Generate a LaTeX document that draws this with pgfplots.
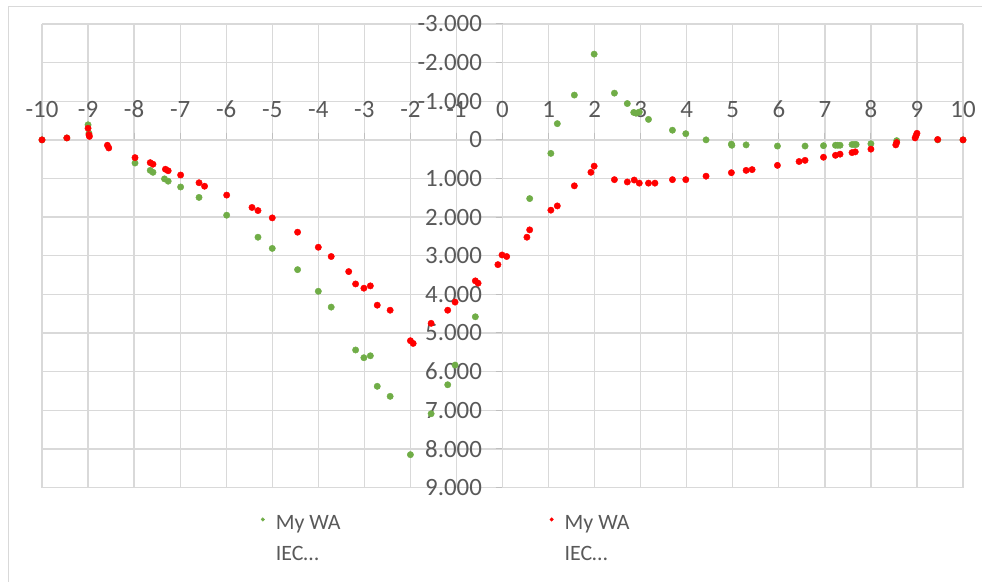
\documentclass[border=0pt]{standalone}
\usepackage{pgfplots}
\pgfplotsset{compat=1.18}
\usepackage{fontspec}
\setmainfont{Carlito}
\definecolor{txt}{HTML}{595959}
\definecolor{gridc}{HTML}{D9D9D9}
\definecolor{axc}{HTML}{BFBFBF}
\definecolor{wagreen}{HTML}{70AD47}
\definecolor{wared}{HTML}{FF0000}
\begin{document}
\begin{tikzpicture}[x=1bp,y=1bp]
\path[use as bounding box] (0,0) rectangle (982,582);
\draw[gridc, line width=1bp] (8,0) -- (8,575) -- (982,575);
\begin{axis}[
 at={(42bp,94.5bp)}, anchor=south west,
 scale only axis, width=921bp, height=463.5bp,
 xmin=-10, xmax=10, ymin=-3, ymax=9, y dir=reverse,
 axis lines=middle, axis line style={axc, line width=1.2bp, -},
 xtick={-10,-9,-8,-7,-6,-5,-4,-3,-2,-1,1,2,3,4,5,6,7,8,9,10},
 ytick={-3,-2,-1,1,2,3,4,5,6,7,8,9},
 xticklabels={-10,-9,-8,-7,-6,-5,-4,-3,-2,-1,1,2,3,4,5,6,7,8,9,10},
 yticklabels={-3.000,-2.000,-1.000,1.000,2.000,3.000,4.000,5.000,6.000,7.000,8.000,9.000},
 extra x ticks={0}, extra x tick labels={0},
 extra y ticks={0}, extra y tick labels={0},
 extra tick style={grid=major},
 grid=major, major grid style={gridc, line width=1.3bp},
 tick style={axc, line width=1bp}, major tick length=7bp, tick align=outside,
 ticklabel style={font=\fontsize{25}{30}\selectfont, text=txt},
 xticklabel style={anchor=south, yshift=26bp},
 yticklabel style={xshift=-10bp},
 clip=false,
 legend columns=2,
 legend cell align=left,
 legend image code/.code={\path[draw=none,fill=none] (0bp,0bp) -- (15bp,0bp); \fill (4bp,0bp) circle (1.8bp);},
 legend style={at={(0.232,-0.035)}, anchor=north west, draw=none, fill=none,
   font=\fontsize{22}{31}\selectfont, text=txt,
   /tikz/every even column/.append style={column sep=205bp}},
]
\addplot[only marks, mark=*, mark size=3.2bp, color=wagreen, mark options={draw=wagreen, fill=wagreen}] coordinates {
(-10,0) (-9.46,-0.05) (9.45,0) (10,0)
(-9.0,-0.39) (-8.98,-0.17) (-7.98,0.60) (-7.65,0.79) (-7.59,0.84) (-7.34,1.01) (-7.26,1.07)
(-6.99,1.22) (-6.59,1.49) (-5.99,1.95) (-5.31,2.52) (-5.0,2.81) (-4.45,3.36) (-4.0,3.92)
(-3.72,4.33) (-3.19,5.44) (-3.01,5.64) (-2.87,5.59) (-2.72,6.38) (-2.44,6.64) (-2.0,8.15)
(-1.55,7.09) (-1.19,6.34) (-1.03,5.83) (-0.59,4.58) (0.59,1.52) (1.05,0.35) (1.19,-0.42)
(1.56,-1.16) (1.99,-2.22) (2.43,-1.21) (2.71,-0.94) (2.85,-0.71) (2.90,-0.69) (2.97,-0.72)
(3.17,-0.53) (3.69,-0.25) (3.98,-0.16) (4.42,0.0) (4.97,0.11) (4.98,0.14) (5.29,0.13)
(5.97,0.16) (6.57,0.16) (6.97,0.15) (7.23,0.14) (7.28,0.14) (7.33,0.14) (7.59,0.12)
(7.64,0.12) (7.68,0.12) (8.0,0.10) (8.56,0.02)
};
\addlegendentry{\begin{tabular}[t]{@{}l@{}}My WA\\IEC…\end{tabular}}
\addplot[only marks, mark=*, mark size=3.2bp, color=wared, mark options={draw=wared, fill=wared}] coordinates {
(-10,0) (-9.46,-0.05) (-9.0,-0.30) (-8.98,-0.13) (-8.97,-0.09) (-8.58,0.14) (-8.55,0.21)
(-7.98,0.46) (-7.65,0.59) (-7.59,0.63) (-7.32,0.76) (-7.26,0.80) (-6.99,0.91) (-6.59,1.11)
(-6.47,1.20) (-5.99,1.43) (-5.44,1.75) (-5.31,1.83) (-5.0,2.02) (-4.45,2.39) (-4.0,2.78)
(-3.72,3.02) (-3.34,3.41) (-3.19,3.73) (-3.01,3.84) (-2.87,3.78) (-2.72,4.28) (-2.44,4.41)
(-2.0,5.20) (-1.94,5.27) (-1.55,4.75) (-1.19,4.41) (-1.03,4.20) (-0.59,3.65) (-0.53,3.71)
(-0.10,3.23) (-0.01,2.98) (0.09,3.02) (0.53,2.52) (0.59,2.33) (1.05,1.82) (1.19,1.71)
(1.56,1.19) (1.92,0.84) (1.99,0.68) (2.43,1.03) (2.71,1.09) (2.86,1.04) (2.97,1.12)
(3.17,1.12) (3.31,1.12) (3.69,1.03) (3.98,1.03) (4.42,0.94) (4.97,0.85) (5.29,0.79)
(5.42,0.77) (5.97,0.66) (6.44,0.56) (6.57,0.53) (6.97,0.45) (7.23,0.40) (7.33,0.37)
(7.59,0.33) (7.66,0.31) (8.0,0.24) (8.54,0.13) (8.56,0.07) (8.96,-0.05) (8.98,-0.11)
(9.0,-0.17) (9.45,-0.01) (10,0)
};
\addlegendentry{\begin{tabular}[t]{@{}l@{}}My WA\\IEC…\end{tabular}}
\end{axis}
\end{tikzpicture}
\end{document}
